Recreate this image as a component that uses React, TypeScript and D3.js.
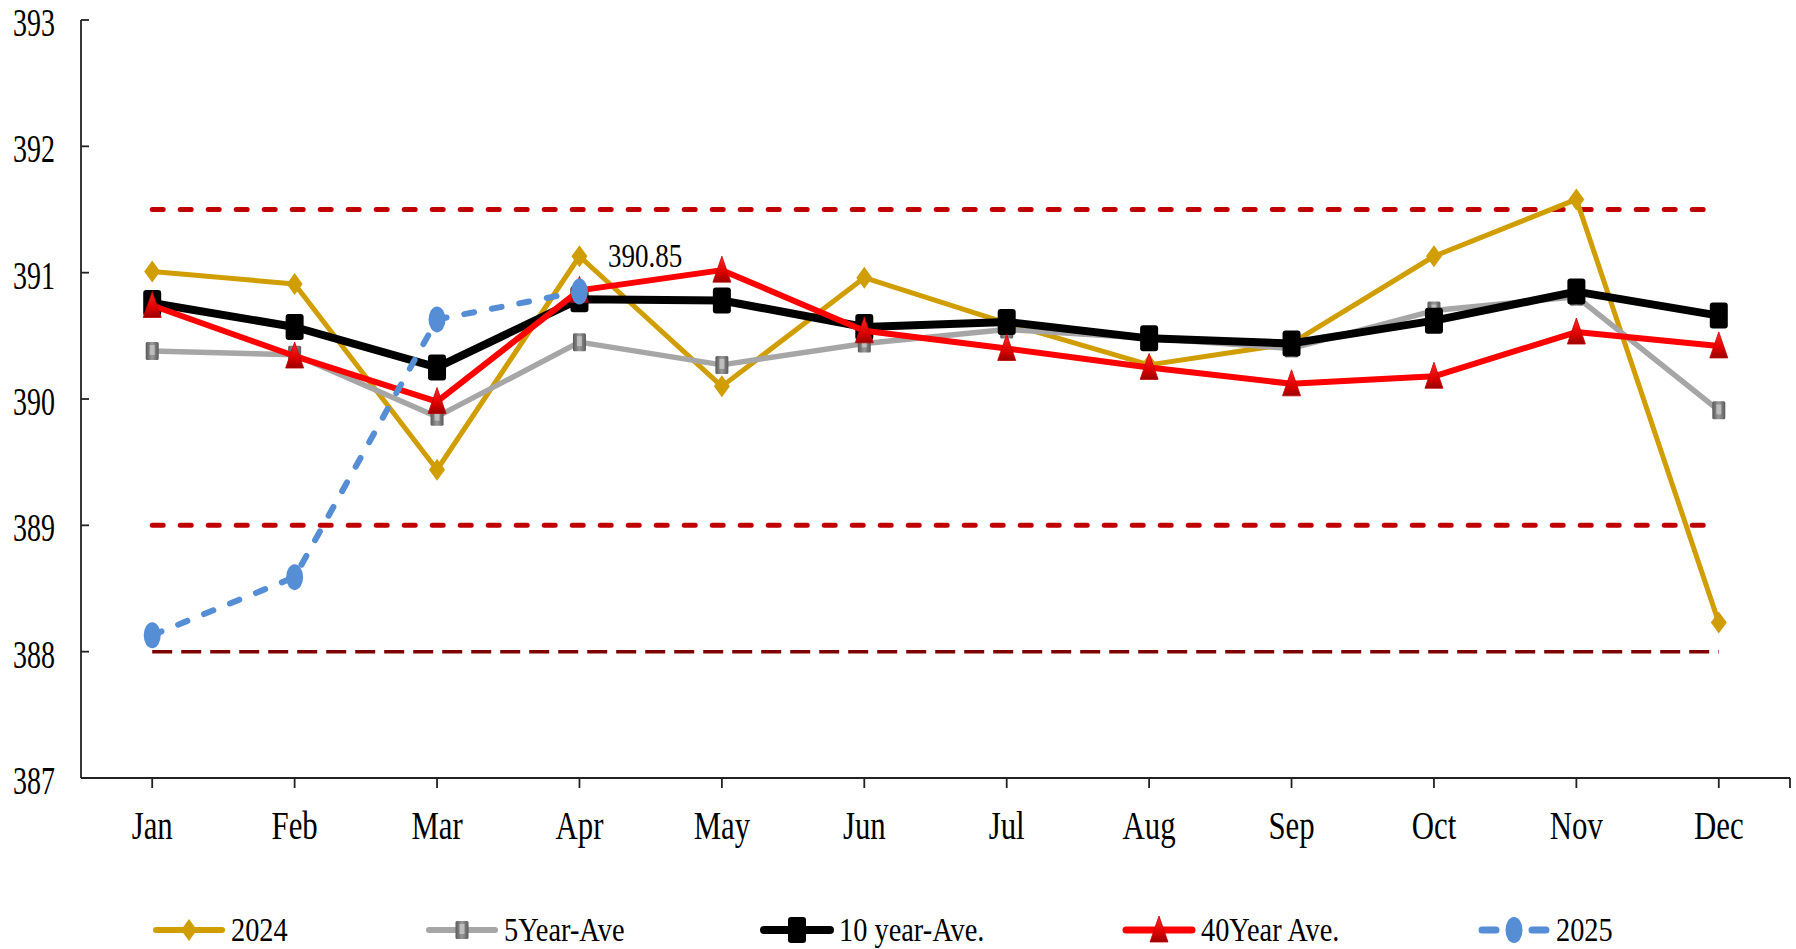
import * as d3 from "d3";

const months = ["Jan", "Feb", "Mar", "Apr", "May", "Jun", "Jul", "Aug", "Sep", "Oct", "Nov", "Dec"];

const s2024 = [391.01, 390.91, 389.44, 391.13, 390.1, 390.96, 390.6, 390.27, 390.44, 391.13, 391.58, 388.23];
const s5yr = [390.38, 390.35, 389.86, 390.45, 390.27, 390.44, 390.55, 390.48, 390.4, 390.7, 390.81, 389.91];
const s10yr = [390.76, 390.57, 390.25, 390.79, 390.78, 390.57, 390.61, 390.48, 390.44, 390.62, 390.85, 390.66];
const s40yr = [390.74, 390.34, 389.98, 390.86, 391.02, 390.54, 390.4, 390.25, 390.12, 390.18, 390.53, 390.42];
const s2025 = [388.13, 388.59, 390.63, 390.85];

const upperLimit = 391.5;
const lowerLimit = 389;
const minLimit = 388;

const yTicks = [387, 388, 389, 390, 391, 392, 393];
const seriesNames = ["2024", "5Year-Ave", "10 year-Ave.", "40Year Ave.", "2025"];
const lastLabel = "390.85";

const W = 1796;
const H = 949;
const left = 81;
const right = 1790;
const top = 20;
const bottom = 778;

const x = d3.scalePoint<string>().domain(months).range([left, right]).padding(0.5);
const y = d3.scaleLinear().domain([387, 393]).range([bottom, top]);

const FONT = "'Liberation Serif', 'DejaVu Serif', serif";

type Marker = "diamond" | "square" | "bigsquare" | "triangle" | "ellipse";

function MarkerShape({ kind, cx, cy }: { kind: Marker; cx: number; cy: number }) {
  if (kind === "diamond") {
    return <path transform={`translate(${cx},${cy})`} d="M0,-11 L8,0 L0,11 L-8,0 Z" fill="#D09E00" />;
  }
  if (kind === "square") {
    return (
      <g transform={`translate(${cx},${cy})`}>
        <rect x={-6.5} y={-9} width={13} height={18} rx={1.5} fill="url(#grayGrad)" />
        <rect x={-2.5} y={-6} width={5} height={10} fill="#c8c8c8" opacity={0.8} />
      </g>
    );
  }
  if (kind === "bigsquare") {
    return <rect x={cx - 9} y={cy - 13} width={18} height={26} rx={3} fill="#000" />;
  }
  if (kind === "triangle") {
    return (
      <path transform={`translate(${cx},${cy})`} d="M0,-14 L9,12 L-9,12 Z" fill="url(#redGrad)" stroke="#c00000" strokeWidth={0.8} />
    );
  }
  return <ellipse cx={cx} cy={cy} rx={8.5} ry={13} fill="#558ED5" />;
}

const series = [
  { name: seriesNames[0], values: s2024, color: "#D09E00", width: 5, marker: "diamond" as Marker, dash: undefined as string | undefined, legendX: 153, legendW: 6 },
  { name: seriesNames[1], values: s5yr, color: "#A6A6A6", width: 5.5, marker: "square" as Marker, dash: undefined, legendX: 426, legendW: 6 },
  { name: seriesNames[2], values: s10yr, color: "#000000", width: 8, marker: "bigsquare" as Marker, dash: undefined, legendX: 761, legendW: 8 },
  { name: seriesNames[3], values: s40yr, color: "#FF0000", width: 6, marker: "triangle" as Marker, dash: undefined, legendX: 1123, legendW: 7 },
  { name: seriesNames[4], values: s2025, color: "#558ED5", width: 6, marker: "ellipse" as Marker, dash: "10 18", legendX: 1478, legendW: 7 },
];

export default function App() {
  const line = d3
    .line<number>()
    .x((_, i) => x(months[i])!)
    .y((d) => y(d));

  const refLine = (v: number) => [x(months[0])!, x(months[11])!].map((px) => [px, y(v)] as [number, number]);
  const legendY = 930;

  return (
    <svg width={W} height={H} style={{ position: "absolute", left: 0, top: 0, background: "#fff" }} fontFamily={FONT}>
      <defs>
        <linearGradient id="redGrad" x1="0" y1="0" x2="0" y2="1">
          <stop offset="0" stopColor="#ff2a2a" />
          <stop offset="0.6" stopColor="#e00000" />
          <stop offset="1" stopColor="#9a0000" />
        </linearGradient>
        <linearGradient id="grayGrad" x1="0" y1="0" x2="1" y2="0">
          <stop offset="0" stopColor="#5a5a5a" />
          <stop offset="0.5" stopColor="#9a9a9a" />
          <stop offset="1" stopColor="#5a5a5a" />
        </linearGradient>
      </defs>

      {/* reference lines */}
      <path d={d3.line()(refLine(upperLimit))!} stroke="#C00000" strokeWidth={5} strokeDasharray="11 17" strokeLinecap="round" fill="none" />
      <path d={d3.line()(refLine(lowerLimit))!} stroke="#C00000" strokeWidth={5} strokeDasharray="11 17" strokeLinecap="round" fill="none" />
      <path d={d3.line()(refLine(minLimit))!} stroke="#7F0000" strokeWidth={3.5} strokeDasharray="20 9" fill="none" />

      {/* axes */}
      <g stroke="#222" strokeWidth={1.8}>
        <line x1={left} x2={left} y1={top} y2={bottom} />
        <line x1={left} x2={right} y1={bottom} y2={bottom} />
        {yTicks.map((t) => (
          <line key={t} x1={left} x2={left + 8} y1={y(t)} y2={y(t)} />
        ))}
        {months.map((m) => (
          <line key={m} x1={x(m)} x2={x(m)} y1={bottom} y2={bottom + 10} />
        ))}
        <line x1={right} x2={right} y1={bottom} y2={bottom + 10} />
      </g>
      {yTicks.map((t) => (
        <text key={t} transform={`translate(55,${y(t) + 16}) scale(0.7,1)`} textAnchor="end" fontSize={40} fill="#000">
          {t}
        </text>
      ))}
      {months.map((m) => (
        <text key={m} transform={`translate(${x(m)},839) scale(0.77,1)`} textAnchor="middle" fontSize={40} fill="#000">
          {m}
        </text>
      ))}

      {/* series */}
      {series.map((s) => (
        <g key={s.name}>
          <path
            d={line(s.values)!}
            fill="none"
            stroke={s.color}
            strokeWidth={s.width}
            strokeDasharray={s.dash}
            strokeLinecap={s.dash ? "round" : "butt"}
            strokeLinejoin="round"
          />
          {s.values.map((v, i) => (
            <MarkerShape key={i} kind={s.marker} cx={x(months[i])!} cy={y(v)} />
          ))}
        </g>
      ))}

      <text transform="translate(608,267) scale(0.82,1)" fontSize={33} fill="#000">
        {lastLabel}
      </text>

      {/* legend */}
      {series.map((s) => (
        <g key={s.name}>
          {s.dash ? (
            <line x1={s.legendX + 4} x2={s.legendX + 68} y1={legendY} y2={legendY} stroke={s.color} strokeWidth={s.legendW} strokeLinecap="round" strokeDasharray="14 36" />
          ) : (
            <line x1={s.legendX + 3} x2={s.legendX + 69} y1={legendY} y2={legendY} stroke={s.color} strokeWidth={s.legendW} strokeLinecap="round" />
          )}
          <MarkerShape kind={s.marker} cx={s.legendX + 36} cy={legendY} />
          <text transform={`translate(${s.legendX + 78},${legendY + 11}) scale(0.86,1)`} fontSize={33} fill="#000">
            {s.name}
          </text>
        </g>
      ))}
    </svg>
  );
}
